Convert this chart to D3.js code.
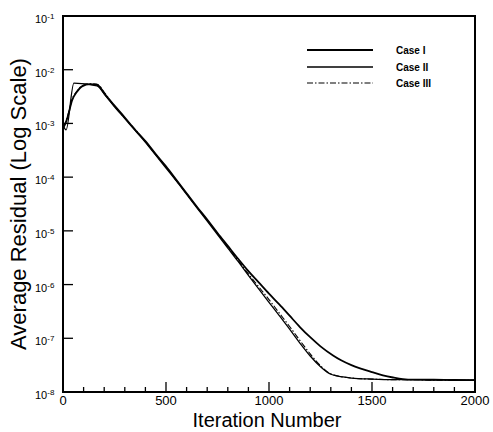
<!DOCTYPE html>
<html><head><meta charset="utf-8">
<script src="https://cdn.jsdelivr.net/npm/d3@7"></script>
<style>body{margin:0;background:#fff}text{font-family:"Liberation Sans",Arial,sans-serif;fill:#000}</style>
</head><body><svg id="c" width="493" height="432"></svg>
<script>
// iterations and log10(residual)
const caseIIter = [0,10,24,44,68,92,131,165,204,250,300,350,400,450,500,550,600,650,700,750,800,850,900,950,1000,1050,1100,1150,1200,1250,1311,1350,1400,1442,1500,1553,1602,1650,1700,1800,1900,2000];
const caseILog  = [-3.09,-3.02,-2.86,-2.57,-2.41,-2.31,-2.27,-2.28,-2.46,-2.67,-2.89,-3.12,-3.33,-3.57,-3.80,-4.05,-4.30,-4.55,-4.79,-5.04,-5.28,-5.52,-5.75,-5.96,-6.17,-6.37,-6.58,-6.79,-6.98,-7.15,-7.32,-7.41,-7.50,-7.56,-7.63,-7.69,-7.73,-7.76,-7.77,-7.77,-7.78,-7.78];
const caseIIIter = [0,15,53,165,204,250,300,350,400,450,500,550,600,650,700,750,800,850,900,950,1000,1050,1100,1150,1200,1250,1282,1300,1359,1400,1500,1600,1700,1800,1900,2000];
const caseIILog  = [-3.03,-3.12,-2.25,-2.30,-2.47,-2.69,-2.91,-3.13,-3.35,-3.59,-3.83,-4.07,-4.32,-4.57,-4.82,-5.07,-5.32,-5.57,-5.83,-6.08,-6.33,-6.58,-6.83,-7.09,-7.33,-7.53,-7.63,-7.67,-7.72,-7.74,-7.76,-7.77,-7.77,-7.78,-7.77,-7.78];
const caseIIIIter = [0,10,24,44,68,92,131,165,204,250,300,350,400,450,500,550,600,650,700,750,800,850,900,950,1000,1050,1100,1150,1200,1250,1282,1300,1359,1400,1500,1600,1700,1800,1900,2000];
const caseIIILog  = [-3.06,-3.00,-2.84,-2.55,-2.40,-2.30,-2.26,-2.27,-2.44,-2.68,-2.90,-3.11,-3.34,-3.58,-3.81,-4.06,-4.31,-4.56,-4.80,-5.05,-5.30,-5.55,-5.80,-6.04,-6.28,-6.53,-6.78,-7.04,-7.29,-7.51,-7.62,-7.66,-7.72,-7.74,-7.76,-7.77,-7.77,-7.78,-7.78,-7.78];
const seriesNames = ["Case I","Case II","Case III"];
const yTickExp = [-1,-2,-3,-4,-5,-6,-7,-8];
const xTicks = [0,500,1000,1500,2000];

const svg = d3.select("#c");
const L=63,R=475,T=16,B=392;
const x = d3.scaleLinear().domain([0,2000]).range([L,R]);
const y = d3.scaleLog().domain([1e-8,1e-1]).range([B,T]);

const series = [
  {name:seriesNames[0], it:caseIIter, v:caseILog, w:1.8, dash:null},
  {name:seriesNames[1], it:caseIIIter, v:caseIILog, w:1.3, dash:null},
  {name:seriesNames[2], it:caseIIIIter, v:caseIIILog, w:1.1, dash:"6,2,1.5,2"}
];
const line = d3.line().x(d=>x(d[0])).y(d=>y(Math.pow(10,d[1]))).curve(d3.curveMonotoneX);
series.forEach(s=>{
  svg.append("path").attr("d", line(s.it.map((t,i)=>[t,s.v[i]])))
    .attr("fill","none").attr("stroke","#000").attr("stroke-width",s.w)
    .attr("stroke-dasharray",s.dash);
});

// frame
svg.append("rect").attr("x",L).attr("y",T).attr("width",R-L).attr("height",B-T)
  .attr("fill","none").attr("stroke","#000").attr("stroke-width",2);

// x ticks inward
const xMinor = d3.range(0,2001,100);
svg.append("g").selectAll("line").data(xMinor).join("line")
  .attr("x1",d=>x(d)).attr("x2",d=>x(d)).attr("y1",B).attr("y2",d=>B-(d%500===0?10:5))
  .attr("stroke","#000").attr("stroke-width",1.3);
svg.append("g").selectAll("text").data(xTicks).join("text")
  .attr("x",d=>x(d)).attr("y",405).attr("text-anchor","middle").attr("font-size",13).text(d=>d);

// y ticks inward
svg.append("g").selectAll("line").data(yTickExp).join("line")
  .attr("x1",L).attr("x2",L+10).attr("y1",d=>y(Math.pow(10,d))).attr("y2",d=>y(Math.pow(10,d)))
  .attr("stroke","#000").attr("stroke-width",1.3);
const yl = svg.append("g").selectAll("text").data(yTickExp).join("text")
  .attr("x",35).attr("y",d=>y(Math.pow(10,d))+7).attr("font-size",11);
yl.append("tspan").text("10");
yl.append("tspan").attr("font-size",8).attr("dy",-4).text(d=>d);

// titles
svg.append("text").attr("x",267).attr("y",427).attr("text-anchor","middle")
  .attr("font-size",20).text("Iteration Number");
svg.append("text").attr("transform","translate(26,204) rotate(-90)").attr("text-anchor","middle")
  .attr("font-size",22).text("Average Residual (Log Scale)");

// legend
const ly=[50,67,83];
series.forEach((s,i)=>{
  svg.append("line").attr("x1",307).attr("x2",373).attr("y1",ly[i]).attr("y2",ly[i])
    .attr("stroke","#000").attr("stroke-width",s.w).attr("stroke-dasharray",s.dash);
  svg.append("text").attr("x",396).attr("y",ly[i]+3.5).attr("font-size",10).attr("font-weight","bold")
    .text(s.name);
});
</script></body></html>
